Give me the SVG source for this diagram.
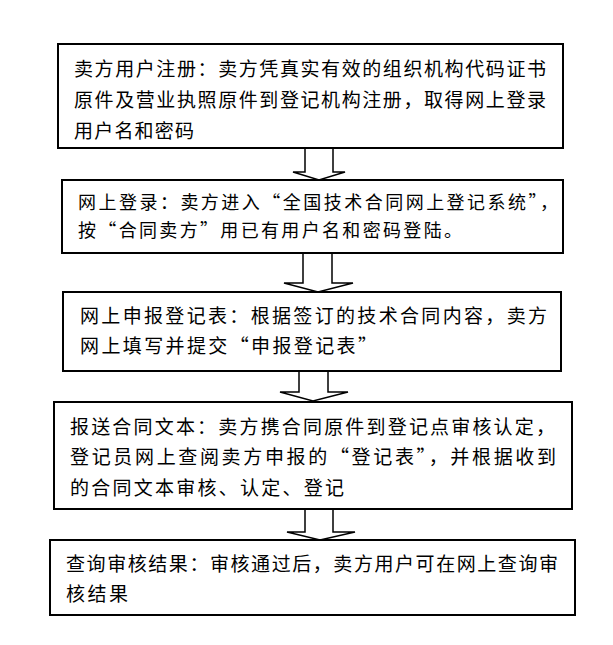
<svg xmlns="http://www.w3.org/2000/svg" width="613" height="645" viewBox="0 0 613 645">
<style>
.box{fill:#fff;stroke:#000;stroke-width:2}
.arr{fill:#fff;stroke:#000;stroke-width:1.5;stroke-linejoin:miter}
text{font-family:"Noto Sans CJK SC","Noto Sans CJK TC",sans-serif;font-size:19px;fill:#000}
.t2{font-size:18px}
</style>
<rect width="613" height="645" fill="#fff"/>
<g id="connectors">
<polygon class="arr" points="305,148 333,148 333,172 345,172 319,180 293,172 305,172"/>
<polygon class="arr" points="303,253 332,253 332,283 353,283 318,292 284,283 303,283"/>
<polygon class="arr" points="299,371 328,371 328,392 348,392 313,401 280,392 299,392"/>
<polygon class="arr" points="305,509 333,509 333,532 355,532 320,540 287,532 305,532"/>
</g>
<g id="node1">
<rect class="box" x="58" y="44" width="505" height="104"/>
<text x="74" y="76" textLength="472" lengthAdjust="spacing">卖方用户注册：卖方凭真实有效的组织机构代码证书</text>
<text x="74" y="107" textLength="472" lengthAdjust="spacing">原件及营业执照原件到登记机构注册，取得网上登录</text>
<text x="74" y="138" textLength="120" lengthAdjust="spacing">用户名和密码</text>
</g>
<g id="node2">
<rect class="box" x="62" y="180" width="501" height="73"/>
<text class="t2" x="78" y="209" textLength="480" lengthAdjust="spacing">网上登录：卖方进入“全国技术合同网上登记系统”，</text>
<text class="t2" x="78" y="237" textLength="384" lengthAdjust="spacing">按“合同卖方”用已有用户名和密码登陆。</text>
</g>
<g id="node3">
<rect class="box" x="63" y="292" width="498" height="79"/>
<text x="80" y="323" textLength="467" lengthAdjust="spacing">网上申报登记表：根据签订的技术合同内容，卖方</text>
<text x="80" y="353" textLength="297" lengthAdjust="spacing">网上填写并提交“申报登记表”</text>
</g>
<g id="node4">
<rect class="box" x="54" y="402" width="518" height="107"/>
<text x="70" y="434" textLength="485" lengthAdjust="spacing">报送合同文本：卖方携合同原件到登记点审核认定，</text>
<text x="70" y="464" textLength="486" lengthAdjust="spacing">登记员网上查阅卖方申报的“登记表”，并根据收到</text>
<text x="70" y="495" textLength="274" lengthAdjust="spacing">的合同文本审核、认定、登记</text>
</g>
<g id="node5">
<rect class="box" x="50" y="540" width="525" height="75"/>
<text x="66" y="571" textLength="492" lengthAdjust="spacing">查询审核结果：审核通过后，卖方用户可在网上查询审</text>
<text x="66" y="601" textLength="62" lengthAdjust="spacing">核结果</text>
</g>
</svg>
